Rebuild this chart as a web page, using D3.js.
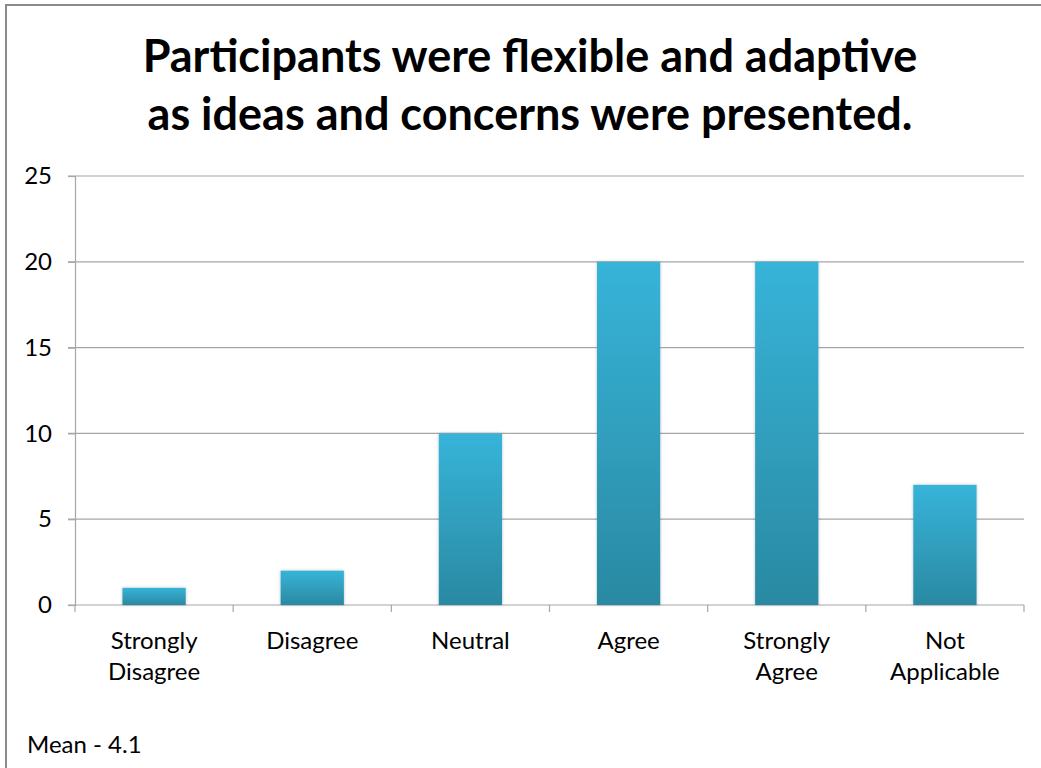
<!DOCTYPE html>
<html>
<head>
<meta charset="utf-8">
<script src="https://cdn.jsdelivr.net/npm/d3@7"></script>
<style>
  body { margin: 0; background: #fff; }
  text { font-family: Lato, "Open Sans", sans-serif; fill: #000; }
</style>
</head>
<body>
<div id="chart"></div>
<script>
// Chart data
var categories = ["Strongly Disagree", "Disagree", "Neutral", "Agree", "Strongly Agree", "Not Applicable"];
var labelLines = [["Strongly", "Disagree"], ["Disagree"], ["Neutral"], ["Agree"], ["Strongly", "Agree"], ["Not", "Applicable"]];
var counts = [1, 2, 10, 20, 20, 7];
var yTicks = [0, 5, 10, 15, 20, 25];
var titleLines = ["Participants were flexible and adaptive", "as ideas and concerns were presented."];
var footnote = "Mean - 4.1";

var svgWidth = 1041;
var svgHeight = 768;

var margin = { top: 176, right: 17, bottom: 163, left: 75 };
var chartWidth = svgWidth - margin.left - margin.right;
var chartHeight = svgHeight - margin.top - margin.bottom;

var svg = d3.select("#chart")
  .append("svg")
  .attr("width", svgWidth)
  .attr("height", svgHeight);

// gradient + soft shadow for bars
var defs = svg.append("defs");
var grad = defs.append("linearGradient")
  .attr("id", "barGrad")
  .attr("x1", 0).attr("y1", 0).attr("x2", 0).attr("y2", 1);
grad.append("stop").attr("offset", "0%").attr("stop-color", "#37b4d9");
grad.append("stop").attr("offset", "100%").attr("stop-color", "#2a89a2");

var shadow = defs.append("filter").attr("id", "shadow")
  .attr("x", "-20%").attr("y", "-20%").attr("width", "140%").attr("height", "140%");
shadow.append("feDropShadow")
  .attr("dx", 0).attr("dy", 0).attr("stdDeviation", 1.5)
  .attr("flood-color", "#000").attr("flood-opacity", 0.25);

// outer frame
svg.append("rect")
  .attr("x", 6).attr("y", 5)
  .attr("width", svgWidth + 10).attr("height", svgHeight + 10)
  .attr("fill", "none")
  .attr("stroke", "#8a8a8a")
  .attr("stroke-width", 2);

// title
svg.selectAll(".title")
  .data(titleLines)
  .enter().append("text")
  .attr("class", "title")
  .attr("x", 530)
  .attr("y", (d, i) => 72 + i * 58)
  .attr("text-anchor", "middle")
  .style("font-size", "45px")
  .style("font-weight", "bold")
  .text(d => d);

var chartGroup = svg.append("g")
  .attr("transform", `translate(${margin.left}, ${margin.top})`);

var xScale = d3.scaleBand().domain(categories).range([0, chartWidth]).padding(0);
var yScale = d3.scaleLinear().domain([0, 25]).range([chartHeight, 0]);

// gridlines
chartGroup.selectAll(".grid")
  .data(yTicks.filter(d => d > 0))
  .enter().append("line")
  .attr("x1", -7).attr("x2", chartWidth)
  .attr("y1", d => yScale(d)).attr("y2", d => yScale(d))
  .attr("stroke", "#a6a6a6")
  .attr("stroke-width", 1.2);

// y axis
var leftAxis = d3.axisLeft(yScale).tickValues(yTicks).tickSize(7).tickPadding(16);
var yAxis = chartGroup.append("g").call(leftAxis);
yAxis.select(".domain").attr("stroke", "#a6a6a6").attr("stroke-width", 1.2);
yAxis.selectAll(".tick line").attr("stroke", "#a6a6a6").attr("stroke-width", 1.2);
yAxis.selectAll(".tick text")
  .style("font-size", "24px")
  .style("font-family", "Lato, sans-serif")
  .attr("fill", "#000");

// x axis line and category separators
chartGroup.append("line")
  .attr("x1", -7).attr("x2", chartWidth)
  .attr("y1", chartHeight).attr("y2", chartHeight)
  .attr("stroke", "#a6a6a6").attr("stroke-width", 1.2);

var sepPositions = categories.map(c => xScale(c)).concat([chartWidth]);
chartGroup.selectAll(".sep")
  .data(sepPositions)
  .enter().append("line")
  .attr("x1", d => d).attr("x2", d => d)
  .attr("y1", chartHeight).attr("y2", chartHeight + 7)
  .attr("stroke", "#a6a6a6").attr("stroke-width", 1.2);

// bars
var barW = xScale.bandwidth() * 0.4;
chartGroup.selectAll(".bar")
  .data(counts)
  .enter().append("rect")
  .attr("class", "bar")
  .attr("x", (d, i) => xScale(categories[i]) + (xScale.bandwidth() - barW) / 2)
  .attr("y", d => yScale(d))
  .attr("width", barW)
  .attr("height", d => chartHeight - yScale(d))
  .attr("fill", "url(#barGrad)")
  .attr("filter", "url(#shadow)");

// category labels
var catLabels = chartGroup.selectAll(".cat")
  .data(labelLines)
  .enter().append("text")
  .attr("class", "cat")
  .attr("text-anchor", "middle")
  .attr("transform", (d, i) => `translate(${xScale(categories[i]) + xScale.bandwidth() / 2}, ${chartHeight + 44})`)
  .style("font-size", "24px");
catLabels.selectAll("tspan")
  .data(d => d)
  .enter().append("tspan")
  .attr("x", 0)
  .attr("dy", (d, i) => i === 0 ? 0 : 31)
  .text(d => d);

// footnote
svg.append("text")
  .attr("x", 27)
  .attr("y", 753)
  .style("font-size", "24px")
  .text(footnote);
</script>
</body>
</html>
